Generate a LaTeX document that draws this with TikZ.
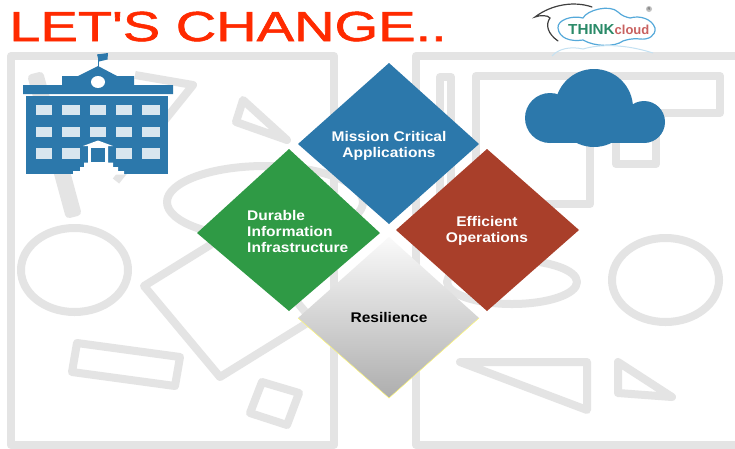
\documentclass[tikz,border=0pt]{standalone}
\usepackage{fontspec}
\setmainfont{Liberation Sans}
\newfontfamily\titlefont[FakeBold=1.2]{Liberation Sans}
\definecolor{bggrey}{HTML}{E4E4E4}
\definecolor{ublue}{HTML}{2C78AB}
\definecolor{ugreen}{HTML}{2F9A45}
\definecolor{ured}{HTML}{A93F2A}
\definecolor{utitle}{HTML}{FF2A00}
\definecolor{lblue}{HTML}{55A9DA}
\definecolor{lgreen}{HTML}{2A8A68}
\definecolor{lred}{HTML}{C8605F}
\tikzset{
  bgshape/.style={draw=bggrey,line width=8pt,line join=round,fill=none},
  diamondbox/.style={draw=none},
  dlabel/.style={font=\fontsize{14}{16}\selectfont\bfseries,inner sep=0pt,text=white,xscale=1.11},
  win/.style={fill=white,fill opacity=.82,draw=none},
}
\begin{document}
\begin{tikzpicture}[x=1pt,y=-1pt]
\useasboundingbox (0,0) rectangle (735,448);
\fill[white] (0,0) rectangle (735,448);
\begin{scope}
\clip (0,0) rectangle (735,448);
% left panel
\draw[bgshape] (11,56) rectangle (334,445);
\draw[bgshape] (32,78) -- (40,76) -- (77,212) -- (69,214) -- cycle;
\draw[bgshape] (135,75) -- (193,85) -- (116,181);
\draw[bgshape] (243,100) -- (287,140) -- (236,122) -- cycle;
\draw[bgshape] (265,202) ellipse (98 and 36);
\draw[bgshape] (74.5,270) ellipse (53.5 and 42);
\draw[bgshape] (144,286) -- (220,377) -- (312,320) -- (236,229) -- cycle;
\draw[bgshape] (77,343) -- (180,357) -- (175,386) -- (72,372) -- cycle;
\draw[bgshape] (262,382) -- (299,393) -- (287,425) -- (250,413) -- cycle;
% right panel
\draw[bgshape] (745,56) -- (416,56) -- (416,445) -- (745,445);
\draw[bgshape] (440,77) rectangle (451,210);
\draw[bgshape] (476,76) rectangle (590,204);
\draw[bgshape] (590,76) -- (720,76) -- (720,113) -- (590,113);
\draw[bgshape] (616,113) rectangle (656,164);
\draw[bgshape] (512,282) ellipse (65 and 22);
\draw[bgshape] (665.5,280) ellipse (53.5 and 42);
\draw[bgshape] (460,362) -- (587,362) -- (587,410) -- cycle;
\draw[bgshape] (618,362) -- (672,397) -- (618,393) -- cycle;
\end{scope}
% title
\node[anchor=base west,inner sep=0pt,text=utitle,font=\fontsize{42}{44}\selectfont\titlefont,xscale=1.335] (title) at (9,41) {LET'S CHANGE..};
% logo
\draw[lblue,line width=1.2pt,fill=white,line join=round] (558,28)
  .. controls (557,20) and (572,15) .. (583,18)
  .. controls (587,10) and (610,4) .. (618,12)
  .. controls (622,16) and (626,17) .. (630,18)
  .. controls (640,15) and (652,19) .. (655,28)
  .. controls (656,36) and (648,40) .. (640,39)
  .. controls (632,38) and (626,40) .. (623,41)
  .. controls (615,47) and (595,47) .. (583,40)
  .. controls (570,42) and (559,38) .. (558,28) -- cycle;
\draw[black!75,line width=1.2pt,line cap=round] (592,7) .. controls (575,1) and (552,4) .. (535,17) .. controls (540,15) and (548,15) .. (550,18) .. controls (545,25) and (548,34) .. (558,41);
\node[anchor=base west,inner sep=0pt,text=lgreen,font=\fontsize{14.5}{15}\selectfont\bfseries,xscale=1.05] (think) at (568,34.5) {THINK};
\node[anchor=base west,inner sep=0pt,text=lred,font=\fontsize{13}{15}\selectfont\bfseries] (cloud) at (614.5,34.5) {cloud};
\node[circle,fill=black!25,inner sep=0pt,minimum size=6pt,text=black!70,font=\fontsize{4}{4}\selectfont] (reg) at (649,9) {R};
\draw[lblue!35,line width=1pt] (552,56) .. controls (558,49) and (570,46) .. (583,49) .. controls (600,44) and (625,44) .. (653,53);
% building
\fill[ublue] (23,85) -- (62,85) -- (62,76) -- (78,76) -- (98,66) -- (117,76) -- (134,76) -- (134,85) -- (173,85) -- (173,94) -- (23,94) -- cycle;
\fill[ublue] (26,96) rectangle (168,174);
\draw[ublue,line width=1.3pt] (98.5,54) -- (98.5,67);
\fill[ublue] (97,54.5) -- (108,53) -- (107.5,59.5) -- (99,61.5) -- cycle;
\fill[white] (98,82) ellipse (7 and 6);
\foreach \xa/\xb in {36/52,62/80,90/106,116/132,142/160}{
  \foreach \ya/\yb in {105/115,127/137}{
    \fill[win] (\xa,\ya) rectangle (\xb,\yb);
  }
}
\foreach \xa/\xb in {36/52,62/80,116/132,142/160}{
  \fill[win] (\xa,148) rectangle (\xb,159);
}
\fill[white] (73,174.5) -- (73,171) -- (80,171) -- (80,167) -- (84,167) -- (84,162.5) -- (88,162.5) -- (88,146) -- (83,146) -- (98,140.5) -- (113,146) -- (108,146) -- (108,162.5) -- (113,162.5) -- (113,167) -- (118,167) -- (118,171) -- (124,171) -- (124,174.5) -- cycle;
\fill[ublue] (91,148) rectangle (105,162);
% cloud
\fill[ublue] (594,108) circle (39);
\fill[ublue] (550,118) circle (25);
\fill[ublue] (644,122) circle (21);
\fill[ublue] (550,110) rectangle (644,143);
% diamonds
\path[diamondbox,fill=ublue] (389,63) -- (479,144) -- (389,224) -- (298,144) -- cycle;
\path[diamondbox,top color=black!2,bottom color=black!32] (389,237) -- (479,318) -- (389,398) -- (298,318) -- cycle;
\draw[yellow!55!white,line width=.5pt] (298,318) -- (389,398) -- (479,318);
\path[diamondbox,fill=ured] (487,149) -- (579,230) -- (487,311) -- (396,230) -- cycle;
\path[diamondbox,fill=ugreen] (289,149) -- (380,233) -- (289,311) -- (197,233) -- cycle;
% labels
\node[dlabel,align=center] (mission) at (389,145.5) {Mission Critical\\Applications};
\node[dlabel,align=left,anchor=west] (durable) at (247,231) {Durable\\Information\\Infrastructure};
\node[dlabel,align=center] (efficient) at (487,231) {Efficient\\Operations};
\node[dlabel,text=black] (resilience) at (389,317) {Resilience};
\end{tikzpicture}
\end{document}
